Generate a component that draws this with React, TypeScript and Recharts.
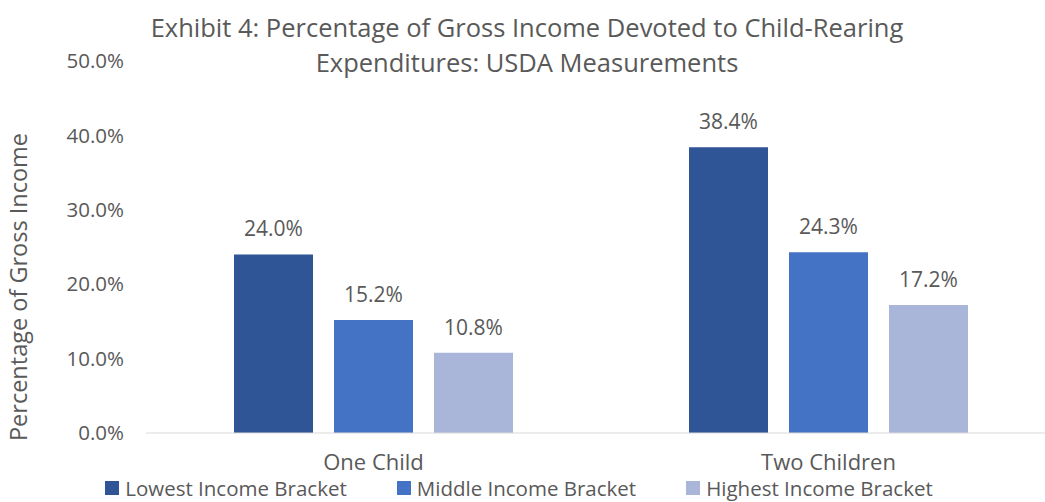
import React from 'react';
import { BarChart, Bar, XAxis, YAxis, Legend, LabelList } from 'recharts';

const categories = ['One Child', 'Two Children'];
const lowestIncome = [24.0, 38.4];
const middleIncome = [15.2, 24.3];
const highestIncome = [10.8, 17.2];
const yTicks = [0, 10, 20, 30, 40, 50];
const seriesNames = ['Lowest Income Bracket', 'Middle Income Bracket', 'Highest Income Bracket'];
const seriesColors = ['#2f5597', '#4472c4', '#a9b6da'];
const titleLines = [
  'Exhibit 4: Percentage of Gross Income Devoted to Child-Rearing',
  'Expenditures: USDA Measurements',
];
const yAxisTitle = 'Percentage of Gross Income';

const data = categories.map((c, i) => ({
  name: c,
  low: lowestIncome[i],
  mid: middleIncome[i],
  high: highestIncome[i],
}));

const FONT = '"Open Sans", "Noto Sans", sans-serif';
const TEXT = '#595959';

const fmt = (v: number) => `${Number(v).toFixed(1)}%`;

const renderLegend = (props: any) => {
  const payload = [...(props.payload || [])].sort(
    (a: any, b: any) => seriesNames.indexOf(a.value) - seriesNames.indexOf(b.value)
  );
  return (
    <div style={{ display: 'flex', justifyContent: 'center', fontFamily: FONT, fontSize: 20.5, color: TEXT, lineHeight: '26px' }}>
      {payload.map((p: any, i: number) => (
        <div key={i} style={{ display: 'flex', alignItems: 'center', marginRight: i < payload.length - 1 ? 50 : 0 }}>
          <span style={{ display: 'inline-block', width: 14, height: 14, background: p.color, marginRight: 6 }} />
          <span>{p.value}</span>
        </div>
      ))}
    </div>
  );
};

export default function App() {
  return (
    <div style={{ position: 'absolute', left: 0, top: 0, width: 1045, height: 502, overflow: 'hidden', background: '#fff' }}>
      <div
        style={{
          position: 'absolute',
          left: 0,
          width: 1054,
          top: 10,
          textAlign: 'center',
          fontFamily: FONT,
          fontSize: 25.5,
          lineHeight: '35px',
          color: TEXT,
          zIndex: 2,
        }}
      >
        {titleLines.map((t, i) => (
          <div key={i}>{t}</div>
        ))}
      </div>
      <BarChart
        width={1062}
        height={502}
        data={data}
        margin={{ top: 61, right: 6, bottom: 0, left: 46 }}
        barSize={79}
        barGap={21}
        barCategoryGap={88}
      >
        <XAxis
          dataKey="name"
          axisLine={{ stroke: '#d9d9d9' }}
          tickLine={false}
          tickSize={0}
          tickMargin={21}
          height={45}
          tick={{ fill: TEXT, fontSize: 22, fontFamily: FONT }}
        />
        <YAxis
          width={100}
          domain={[0, 50]}
          ticks={yTicks}
          tickFormatter={fmt}
          axisLine={false}
          tickLine={false}
          tickSize={0}
          tickMargin={22}
          tick={{ fill: TEXT, fontSize: 20.5, fontFamily: FONT }}
          label={(lp: any) => (
            <text
              x={18}
              y={287}
              transform="rotate(-90 18 287)"
              textAnchor="middle"
              dominantBaseline="central"
              fill={TEXT}
              fontSize={23.5}
              fontFamily={FONT}
            >
              {yAxisTitle}
            </text>
          )}
        />
        <Legend verticalAlign="bottom" height={24} content={renderLegend} wrapperStyle={{ left: 0, width: 1038, bottom: 3 }} />
        <Bar dataKey="low" name={seriesNames[0]} fill={seriesColors[0]} isAnimationActive={false}>
          <LabelList dataKey="low" position="top" offset={18} formatter={fmt} fill={TEXT} fontSize={21} fontFamily={FONT} />
        </Bar>
        <Bar dataKey="mid" name={seriesNames[1]} fill={seriesColors[1]} isAnimationActive={false}>
          <LabelList dataKey="mid" position="top" offset={18} formatter={fmt} fill={TEXT} fontSize={21} fontFamily={FONT} />
        </Bar>
        <Bar dataKey="high" name={seriesNames[2]} fill={seriesColors[2]} isAnimationActive={false}>
          <LabelList dataKey="high" position="top" offset={18} formatter={fmt} fill={TEXT} fontSize={21} fontFamily={FONT} />
        </Bar>
      </BarChart>
    </div>
  );
}
